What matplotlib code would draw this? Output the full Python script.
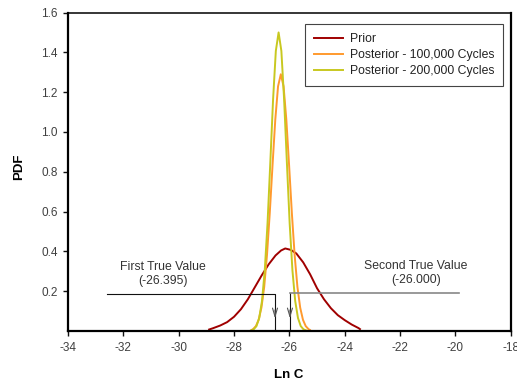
import matplotlib
matplotlib.use("Agg")
import matplotlib.pyplot as plt

plt.rcParams['font.family'] = ['Liberation Sans', 'DejaVu Sans']

# --- dades llegides del gràfic ---
prior_x = [-28.9, -28.75, -28.5, -28.25, -28.0, -27.75, -27.5, -27.25, -27.0,
           -26.75, -26.5, -26.3, -26.15, -25.95, -25.75, -25.5, -25.25, -25.0,
           -24.75, -24.5, -24.25, -24.0, -23.75, -23.5, -23.45]
prior_y = [0.008, 0.015, 0.028, 0.045, 0.072, 0.11, 0.16, 0.22, 0.28,
           0.335, 0.38, 0.405, 0.415, 0.408, 0.39, 0.345, 0.285, 0.215,
           0.16, 0.115, 0.08, 0.055, 0.033, 0.015, 0.01]

post100_x = [-27.36, -27.31, -27.21, -27.11, -27.01, -26.91, -26.81, -26.71,
             -26.61, -26.51, -26.41, -26.31, -26.21, -26.11, -26.01, -25.91,
             -25.81, -25.71, -25.61, -25.51, -25.41, -25.31, -25.26]
post100_y = [0.006, 0.010, 0.025, 0.057, 0.118, 0.222, 0.381, 0.591,
             0.831, 1.061, 1.229, 1.290, 1.229, 1.061, 0.831, 0.591,
             0.381, 0.222, 0.118, 0.057, 0.025, 0.010, 0.006]

post200_x = [-27.39, -27.29, -27.19, -27.09, -26.99, -26.89, -26.79, -26.69,
             -26.59, -26.49, -26.39, -26.29, -26.19, -26.09, -25.99, -25.89,
             -25.79, -25.69, -25.59, -25.49, -25.39]
post200_y = [0.003, 0.009, 0.025, 0.066, 0.151, 0.305, 0.541, 0.845,
             1.162, 1.407, 1.500, 1.407, 1.162, 0.845, 0.541, 0.305,
             0.151, 0.066, 0.025, 0.009, 0.003]

series_labels = ["Prior", "Posterior - 100,000 Cycles", "Posterior - 200,000 Cycles"]
series_colors = ["#A00000", "#FF9A2E", "#C8C820"]

x_ticks = list(range(-34, -17, 2))
y_ticks = [0.2, 0.4, 0.6, 0.8, 1.0, 1.2, 1.4, 1.6]

# valors reals (etiquetes) i on estan dibuixades les fletxes
true_labels = ["First True Value\n(-26.395)", "Second True Value\n(-26.000)"]
arrow_x = [-26.52, -25.98]
arrow_level = [0.184, 0.1925]
line_end_x = [-32.6, -19.87]
label_pos = [(-30.58, 0.285), (-21.42, 0.292)]

# --- gràfic ---
fig = plt.figure(figsize=(5.17, 3.85), dpi=100)
ax = fig.add_axes([0.1315, 0.140, 0.8565, 0.8275])

for xs, ys, lab, col in zip([prior_x, post100_x, post200_x],
                            [prior_y, post100_y, post200_y],
                            series_labels, series_colors):
    ax.plot(xs, ys, color=col, lw=1.4, label=lab)

# línies de les anotacions
ax.plot([line_end_x[0], arrow_x[0], arrow_x[0]],
        [arrow_level[0], arrow_level[0], 0], color="#111111", lw=0.8)
ax.plot([arrow_x[1], arrow_x[1]], [arrow_level[1], 0], color="#111111", lw=0.8)
ax.plot([arrow_x[1], line_end_x[1]], [arrow_level[1], arrow_level[1]],
        color="#888888", lw=1.2)

for xa in arrow_x:
    ax.annotate("", xy=(xa, 0.05), xytext=(xa, 0.12),
                arrowprops=dict(arrowstyle="->,head_length=0.6,head_width=0.18",
                                color="#555555", lw=0.8))

for txt, (tx, ty) in zip(true_labels, label_pos):
    ax.text(tx, ty, txt, ha="center", va="center", fontsize=8.8,
            color="#333333", linespacing=1.2)

ax.set_xlim(-34, -18)
ax.set_ylim(0, 1.6)
ax.set_xticks(x_ticks)
ax.set_xticklabels([str(t) for t in x_ticks])
ax.set_yticks(y_ticks)
ax.set_yticklabels(["%.1f" % t for t in y_ticks])
ax.tick_params(direction="out", length=3.5, width=1, colors="#111111",
               labelsize=8.5, labelcolor="#404040", pad=4)

for side in ["left", "bottom", "right"]:
    ax.spines[side].set_linewidth(1.6)
ax.spines["top"].set_linewidth(1.1)
for sp in ax.spines.values():
    sp.set_color("black")

ax.set_xlabel("Ln C", fontsize=9.5, fontweight="bold")
ax.set_ylabel("PDF", fontsize=9.5, fontweight="bold")
ax.xaxis.set_label_coords(0.499, -0.118)
ax.yaxis.set_label_coords(-0.097, 0.515)

leg = ax.legend(loc="upper right", bbox_to_anchor=(0.983, 0.963),
                borderaxespad=0, fontsize=8.8, frameon=True, fancybox=False,
                framealpha=1, edgecolor="#444444", handlelength=2.4,
                handletextpad=0.5, borderpad=0.75, labelspacing=0.32)
leg.get_frame().set_linewidth(0.8)
for t in leg.get_texts():
    t.set_color("#222222")

fig.savefig("out.png", dpi=100)
